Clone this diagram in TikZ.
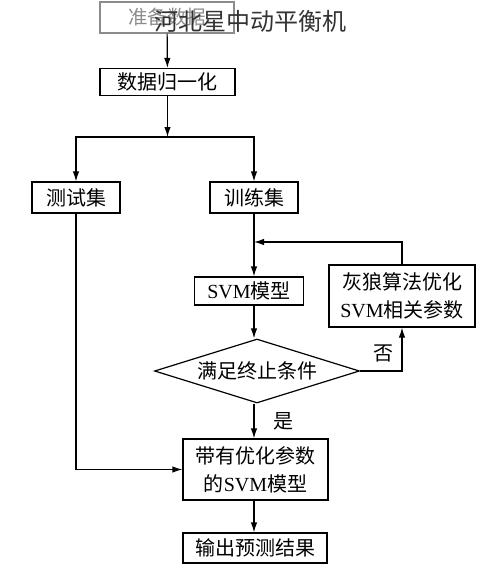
\documentclass[tikz,border=0pt]{standalone}
\usepackage{fontspec}
\setmainfont{Liberation Serif}
\newfontfamily\cjk{Noto Sans CJK SC}
\usetikzlibrary{arrows.meta,shapes.geometric}
\tikzset{
  box/.style={draw, line width=1.2pt, inner sep=0pt, align=center, font=\fontsize{20}{28}\selectfont},
  graybox/.style={box, draw=black!45, text=black!45, font=\fontsize{19.5}{22}\selectfont},
  dia/.style={draw, line width=1.2pt, diamond, inner sep=0pt, aspect=3.2, font=\fontsize{20}{24}\selectfont},
  arr/.style={line width=1.2pt, -{Latex[length=10pt,width=6.5pt]}},
  lab/.style={font=\fontsize{20}{24}\selectfont}
}
\begin{document}
\begin{tikzpicture}[x=1pt,y=-1pt]
\useasboundingbox (0,0) rectangle (500,565);
\node[graybox, minimum width=134pt, minimum height=31pt] (prep) at (167,17.5) {\cjk 准备数据};
\node[box, minimum width=135pt, minimum height=27pt] (norm) at (167.5,82) {\cjk 数据归一化};
\node[box, minimum width=88pt, minimum height=31pt] (test) at (76,197.5) {\cjk 测试集};
\node[box, minimum width=88pt, minimum height=31pt] (train) at (254,197.5) {\cjk 训练集};
\node[box, minimum width=109pt, minimum height=28pt] (svm) at (249,291) {SVM{\cjk 模型}};
\node[box, minimum width=146pt, minimum height=62pt] (gwo) at (402,296) {{\cjk 灰狼算法优化}\\SVM{\cjk 相关参数}};
\node[dia, minimum width=205pt, minimum height=64pt] (cond) at (257,371) {\cjk 满足终止条件};
\node[box, minimum width=145pt, minimum height=61pt] (opt) at (255.5,469.5) {{\cjk 带有优化参数}\\{\cjk 的}SVM{\cjk 模型}};
\node[box, minimum width=144pt, minimum height=30pt] (out) at (255,548) {\cjk 输出预测结果};
\node[text=black!80, font=\fontsize{24}{26}\selectfont\cjk] (wm) at (250,21) {河北星中动平衡机};
\coordinate (split) at (167.5,137);
\coordinate (fb) at (254,242);
\draw[arr] (prep) -- (norm);
\draw[arr] (norm) -- (split);
\draw[arr] (split) -| (test);
\draw[arr] (split) -| (train);
\draw[arr] (train.south) -- (train.south |- svm.north);
\draw[arr] (gwo.north) |- (fb);
\draw[arr] (svm.south -| train) -- (cond.north -| train);
\draw[arr] (cond.south -| train) -- (opt.north -| train);
\draw[arr] (cond.east) -| (gwo.south);
\draw[arr] (test.south) |- (opt.west);
\draw[arr] (opt.south -| train) -- (out.north -| train);
\node[lab] (yes) at (283,421) {\cjk 是};
\node[lab] (no) at (383,353) {\cjk 否};
\end{tikzpicture}
\end{document}
